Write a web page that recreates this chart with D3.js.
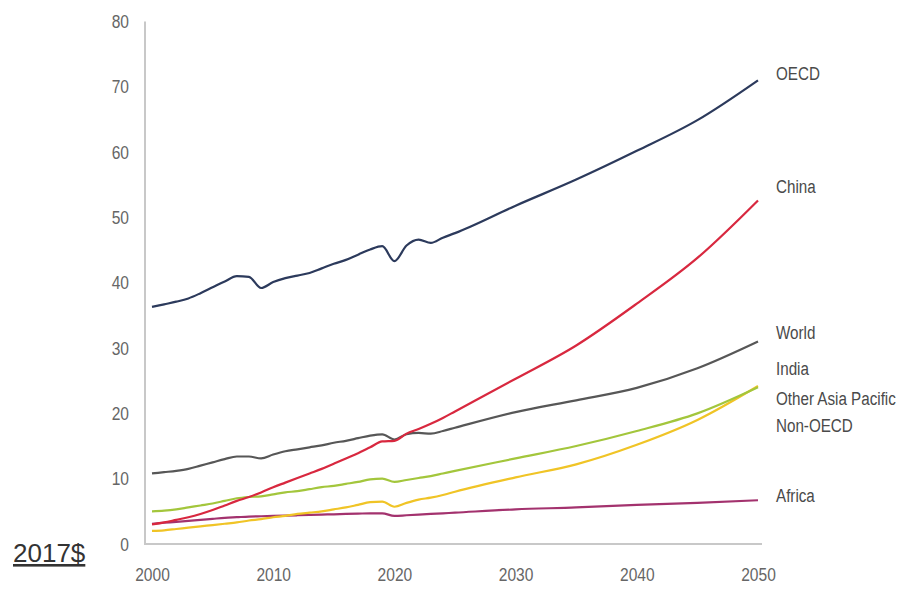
<!DOCTYPE html>
<html>
<head>
<meta charset="utf-8">
<script src="https://cdn.jsdelivr.net/npm/d3@7"></script>
<style>
  body { margin: 0; background: #fff; }
  svg { display: block; }
  .tick text { font-family: "Liberation Sans", Arial, sans-serif; font-size: 19px; fill: #666; }
</style>
</head>
<body>
<div id="chart"></div>
<script>
// years shared by every series: yearly to 2025 then every 5 years
const years = [2000, 2001, 2002, 2003, 2004, 2005, 2006, 2007, 2008, 2009,
  2010, 2011, 2012, 2013, 2014, 2015, 2016, 2017, 2018, 2019,
  2020, 2021, 2022, 2023, 2024, 2025, 2030, 2035, 2040, 2045, 2050];

const oecd = [36.3, 36.7, 37.1, 37.6, 38.4, 39.3, 40.2, 41.0, 40.9, 39.2,
  40.1, 40.7, 41.1, 41.5, 42.2, 42.9, 43.5, 44.3, 45.1, 45.6,
  43.3, 45.7, 46.6, 46.1, 46.9, 47.6, 51.8, 55.8, 60.2, 64.9, 71.0];

const china = [3.0, 3.3, 3.7, 4.1, 4.6, 5.2, 5.9, 6.6, 7.2, 7.9,
  8.7, 9.4, 10.1, 10.8, 11.5, 12.3, 13.1, 13.9, 14.8, 15.7,
  15.8, 16.9, 17.6, 18.4, 19.3, 20.3, 25.3, 30.4, 36.8, 43.8, 52.6];

const world = [10.8, 11.0, 11.2, 11.5, 12.0, 12.5, 13.0, 13.4, 13.4, 13.1,
  13.7, 14.2, 14.5, 14.8, 15.1, 15.5, 15.8, 16.2, 16.6, 16.8,
  16.0, 16.8, 17.0, 16.9, 17.3, 17.8, 20.2, 22.0, 23.9, 26.9, 31.0];

const otherAsia = [5.0, 5.1, 5.3, 5.6, 5.9, 6.2, 6.6, 7.0, 7.2, 7.3,
  7.6, 7.9, 8.1, 8.4, 8.7, 8.9, 9.2, 9.5, 9.9, 10.0,
  9.5, 9.8, 10.1, 10.4, 10.8, 11.2, 13.1, 15.0, 17.3, 20.0, 24.0];

const india = [2.0, 2.1, 2.3, 2.5, 2.7, 2.9, 3.1, 3.3, 3.6, 3.8,
  4.1, 4.3, 4.6, 4.8, 5.0, 5.3, 5.6, 6.0, 6.4, 6.5,
  5.7, 6.3, 6.8, 7.1, 7.5, 8.0, 10.2, 12.2, 15.2, 19.0, 24.2];

const africa = [3.1, 3.25, 3.4, 3.55, 3.7, 3.85, 4.0, 4.1, 4.2, 4.25,
  4.3, 4.35, 4.4, 4.45, 4.5, 4.55, 4.6, 4.65, 4.7, 4.7,
  4.3, 4.4, 4.5, 4.6, 4.7, 4.8, 5.3, 5.6, 6.0, 6.3, 6.7];

const yTicks = [0, 10, 20, 30, 40, 50, 60, 70, 80];
const xTicks = [2000, 2010, 2020, 2030, 2040, 2050];

// right-hand labels, listed top to bottom
const labels = ["OECD", "China", "World", "India", "Other Asia Pacific", "Non-OECD", "Africa"];
const labelY = [73, 186, 332, 368, 398, 425, 495];

const width = 903, height = 591;
const squeeze = 0.82; // narrow the glyphs like the condensed face of the original

const svg = d3.select("#chart")
  .append("svg")
  .attr("width", width)
  .attr("height", height);

const x = d3.scaleLinear().domain([2000, 2050]).range([152, 758]);
const y = d3.scaleLinear().domain([0, 80]).range([544, 21.5]);

// axis lines
svg.append("line")
  .attr("x1", 145).attr("x2", 145)
  .attr("y1", y(80)).attr("y2", y(0))
  .attr("stroke", "#c8c8c8").attr("stroke-width", 2);
svg.append("line")
  .attr("x1", 144).attr("x2", 762)
  .attr("y1", y(0)).attr("y2", y(0))
  .attr("stroke", "#c8c8c8").attr("stroke-width", 2);

const yAxis = svg.append("g")
  .attr("transform", "translate(145,0)")
  .call(d3.axisLeft(y).tickValues(yTicks).tickSize(0).tickPadding(16 / squeeze));
yAxis.select(".domain").remove();
yAxis.selectAll(".tick text").attr("transform", `scale(${squeeze},1)`);

const xAxis = svg.append("g")
  .attr("transform", `translate(0,${y(0)})`)
  .call(d3.axisBottom(x).tickValues(xTicks).tickFormat(d3.format("d")).tickSize(0).tickPadding(24));
xAxis.select(".domain").remove();
xAxis.selectAll(".tick text").attr("transform", `scale(${squeeze},1)`);

const line = d3.line()
  .x((d, i) => x(years[i]))
  .y(d => y(d))
  .curve(d3.curveMonotoneX);

const series = [
  { values: africa, color: "#a3326e" },
  { values: india, color: "#f0c426" },
  { values: otherAsia, color: "#a3c63c" },
  { values: world, color: "#575757" },
  { values: china, color: "#d8283f" },
  { values: oecd, color: "#2c3a5c" }
];

svg.selectAll("path.series")
  .data(series)
  .enter()
  .append("path")
  .attr("class", "series")
  .attr("d", d => line(d.values))
  .attr("fill", "none")
  .attr("stroke", d => d.color)
  .attr("stroke-width", 2.2)
  .attr("stroke-linejoin", "round");

svg.selectAll("text.lbl")
  .data(labels)
  .enter()
  .append("text")
  .attr("class", "lbl")
  .attr("transform", (d, i) => `translate(776,${labelY[i]}) scale(${squeeze - 0.02},1)`)
  .attr("dy", "0.35em")
  .style("font-family", "'Liberation Sans', Arial, sans-serif")
  .style("font-size", "19px")
  .style("fill", "#4a4a4a")
  .text(d => d);

svg.append("text")
  .attr("x", 13)
  .attr("y", 562)
  .style("font-family", "'Liberation Sans', Arial, sans-serif")
  .style("font-size", "26px")
  .style("fill", "#333")
  .style("text-decoration", "underline")
  .text("2017$");
</script>
</body>
</html>
